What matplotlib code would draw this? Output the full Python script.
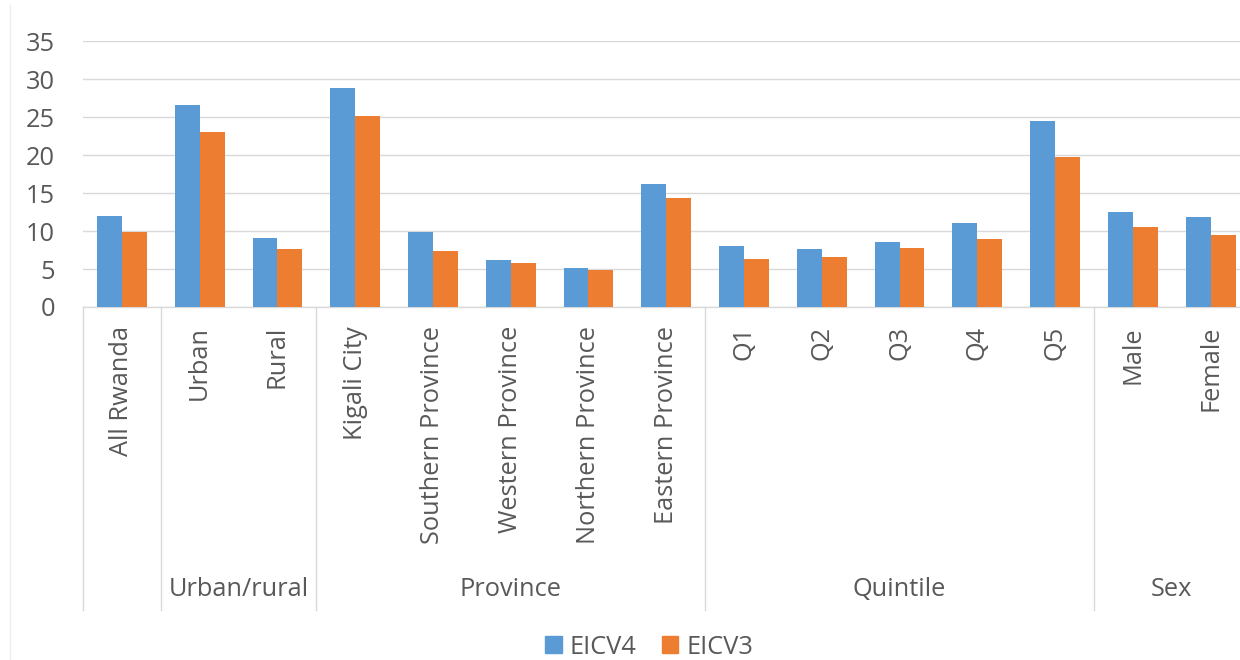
import matplotlib
matplotlib.use("Agg")
import matplotlib.pyplot as plt
from matplotlib.patches import Patch
import numpy as np

plt.rcParams['font.family'] = ['Open Sans', 'DejaVu Sans']

categories = ["All Rwanda", "Urban", "Rural", "Kigali City", "Southern Province",
              "Western Province", "Northern Province", "Eastern Province",
              "Q1", "Q2", "Q3", "Q4", "Q5", "Male", "Female"]
eicv4 = [12.0, 26.6, 9.1, 28.9, 9.9, 6.2, 5.2, 16.2, 8.0, 7.7, 8.5, 11.0, 24.5, 12.5, 11.8]
eicv3 = [9.9, 23.0, 7.6, 25.2, 7.4, 5.8, 4.9, 14.4, 6.3, 6.6, 7.8, 9.0, 19.7, 10.5, 9.5]
groups = [("", 0, 1), ("Urban/rural", 1, 3), ("Province", 3, 8), ("Quintile", 8, 13), ("Sex", 13, 15)]
yticks = [0, 5, 10, 15, 20, 25, 30, 35]

BLUE = "#5B9BD5"
ORANGE = "#ED7D31"
GRID = "#D9D9D9"
TXT = "#595959"
FS = 18.3

W, H = 1240, 660
fig = plt.figure(figsize=(W / 100, H / 100), dpi=100)
left, right, top, bottom = 83, 1249.5, 41.3, 307
ax = fig.add_axes([left / W, 1 - bottom / H, (right - left) / W, (bottom - top) / H])

x = np.arange(len(categories))
bw = 0.32
ax.bar(x - bw / 2, eicv4, bw, color=BLUE, zorder=3)
ax.bar(x + bw / 2, eicv3, bw, color=ORANGE, zorder=3)

ax.set_xlim(-0.5, len(categories) - 0.5)
ax.set_ylim(0, 35)
ax.set_yticks(yticks)
ax.set_yticklabels([str(v) for v in yticks], fontsize=FS, color=TXT)
ax.tick_params(axis='y', length=0, pad=20)
ax.set_xticks([])
ax.grid(axis='y', color=GRID, linewidth=1.0, zorder=0)
for s in ["top", "right", "left"]:
    ax.spines[s].set_visible(False)
ax.spines["bottom"].set_color(GRID)
ax.spines["bottom"].set_linewidth(1.0)

ax_h = bottom - top
trans = ax.get_xaxis_transform()
for i, c in enumerate(categories):
    ax.text(i, -19 / ax_h, c, rotation=90, ha='center', va='top', fontsize=FS,
            color=TXT, transform=trans, clip_on=False)

sep_y = -(610 - bottom) / ax_h
for name, s, e in groups:
    ax.plot([s - 0.5, s - 0.5], [0, sep_y], color=GRID, lw=1.0, transform=trans, clip_on=False)
    if name:
        ax.text((s + e - 1) / 2, -(590 - bottom) / ax_h, name, ha='center', va='center',
                fontsize=FS, color=TXT, transform=trans, clip_on=False)

handles = [Patch(color=BLUE, label="EICV4"), Patch(color=ORANGE, label="EICV3")]
fig.legend(handles=handles, loc='center', bbox_to_anchor=(649 / W, 1 - 647 / H), ncol=2,
           frameon=False, fontsize=FS, handlelength=0.66, handleheight=0.66,
           handletextpad=0.3, columnspacing=1.0, labelcolor=TXT)

# chart area border (faint)
fig.add_artist(plt.Line2D([10 / W, 10 / W], [0, 1 - 5 / H], color="#EEEEEE", lw=1.0))

fig.savefig("out.png", dpi=100, facecolor="white")
